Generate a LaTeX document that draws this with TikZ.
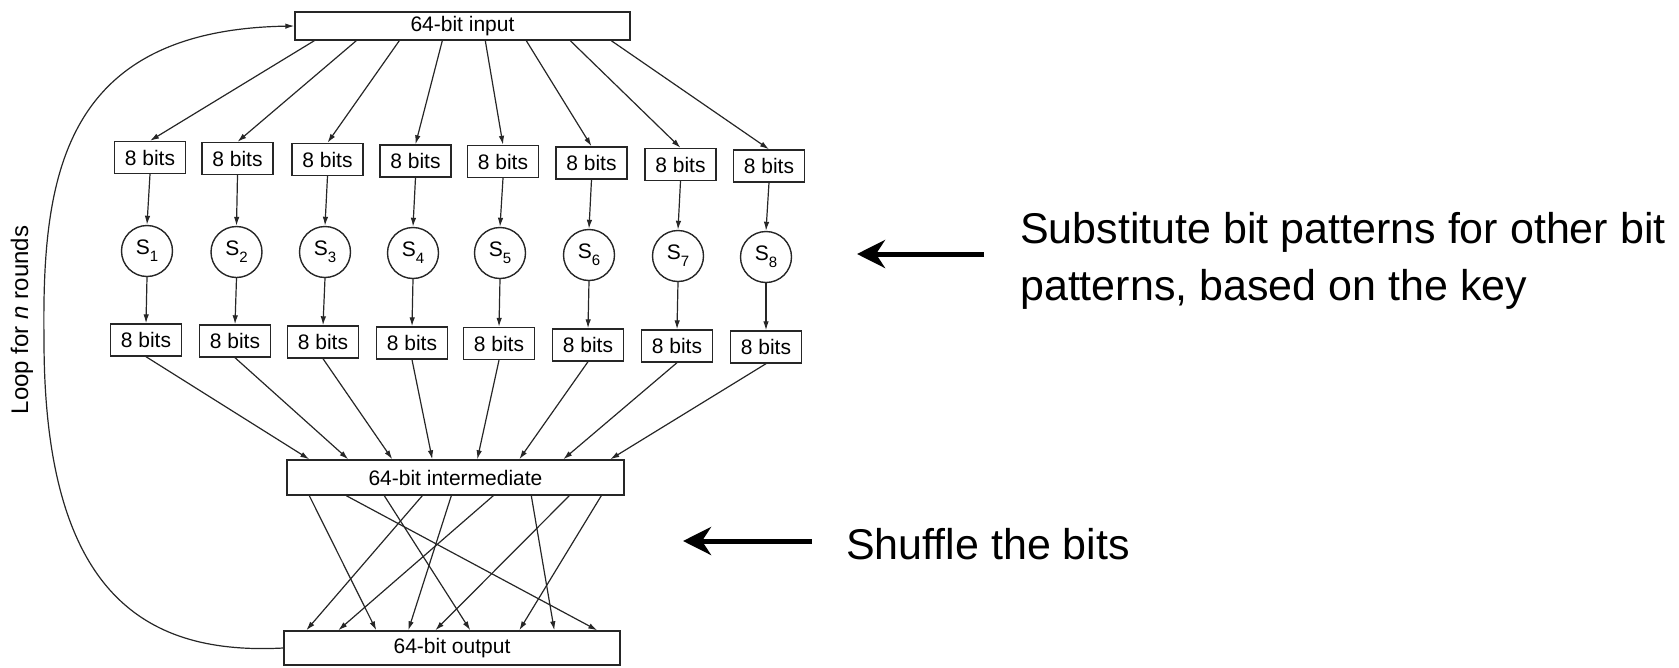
\documentclass[tikz,border=0pt]{standalone}
\usepackage{fontspec}
\setmainfont{Liberation Sans}
\usetikzlibrary{arrows.meta,calc}
\begin{document}
\begin{tikzpicture}[x=1pt,y=-1pt,
  conn/.style={line width=1.2pt, draw=black!85, -{Latex[length=9pt,width=5.5pt]}},
  bigbox/.style={draw=black!85, line width=1.4pt, inner sep=0pt, font=\fontsize{21}{21}\selectfont},
  bitbox/.style={draw=black!85, line width=1.4pt, minimum width=71pt, minimum height=32pt, inner sep=0pt, font=\fontsize{21}{21}\selectfont},
  sbox/.style={draw=black!85, circle, line width=1.4pt, minimum size=51pt, inner sep=0pt, font=\fontsize{21}{21}\selectfont},
  note/.style={font=\fontsize{43}{57}\selectfont, align=left, anchor=base west, inner sep=0pt},
  bigarrow/.style={line width=5pt, -{Stealth[length=28pt,width=28pt,inset=9pt]}}
]
\useasboundingbox (0,0) rectangle (1679,667);

% main boxes
\node[bigbox, minimum width=335pt, minimum height=28pt] (in) at (462.5,26) {64-bit input};
\node[bigbox, minimum width=337pt, minimum height=35pt] (mid) at (455.5,477.5) {64-bit intermediate};
\node[bigbox, minimum width=336pt, minimum height=34pt] (out) at (452,648) {64-bit output};

% columns: index / top box x,y / circle x,y / bottom box x,y / fan-in offset / fan-out offset
\foreach \i/\tx/\ty/\cx/\cy/\bx/\bty/\fin/\fon in {
  1/150/157.5/147/251/146/340/20/23,
  2/237.5/158.5/236.5/252/235/341/62/62,
  3/327.5/159.5/325/252/323/342/105/106,
  4/415.5/161/413/253/412/343/148/146,
  5/503/161.5/500/253/499/343.5/191/191,
  6/591.5/163/589/255/588/345/232/233,
  7/680.5/164.5/678/256/677/346/276/277,
  8/769/166/766/257/766/347/317/324}{
  \node[bitbox] (t\i) at (\tx,\ty) {8 bits};
  \node[sbox] (s\i) at (\cx,\cy) {S\raisebox{-0.32em}{\fontsize{15}{15}\selectfont\i}};
  \node[bitbox] (b\i) at (\bx,\bty) {8 bits};
  \draw[conn] ($(in.south west)+(\fin,0)$) -- (t\i.north);
  \draw[conn] (t\i.south) -- (s\i.north);
  \draw[conn] (s\i.south) -- (b\i.north);
  \draw[conn] (b\i.south) -- ($(mid.north west)+(\fon,0)$);
}

% shuffle lines
\foreach \sa/\sb in {23/93, 60/314, 98/187, 136/23, 165/125, 207/55, 245/271, 283/152, 315/236}{
  \draw[conn] ($(mid.south west)+(\sa,0)$) -- ($(out.north west)+(\sb,0)$);
}

% loop back
\draw[conn] (out.west) .. controls (150,655) and (44,600) .. (44,340)
  .. controls (42,180) and (60,30) .. (in.west);
\node[rotate=90, font=\fontsize{24}{24}\selectfont, inner sep=0pt] (looplbl) at (22,320) {Loop for \textit{n} rounds};

% annotations
\node[note] (subst) at (1020,300) {Substitute bit patterns for other bit\\patterns, based on the key};
\coordinate (pa) at (984,254);
\coordinate (pb) at (857,254);
\draw[bigarrow] (pa) -- (pb);

\node[note] (shuf) at (846,559) {Shuffle the bits};
\coordinate (pc) at (812,541);
\coordinate (pd) at (683,541);
\draw[bigarrow] (pc) -- (pd);
\end{tikzpicture}
\end{document}
